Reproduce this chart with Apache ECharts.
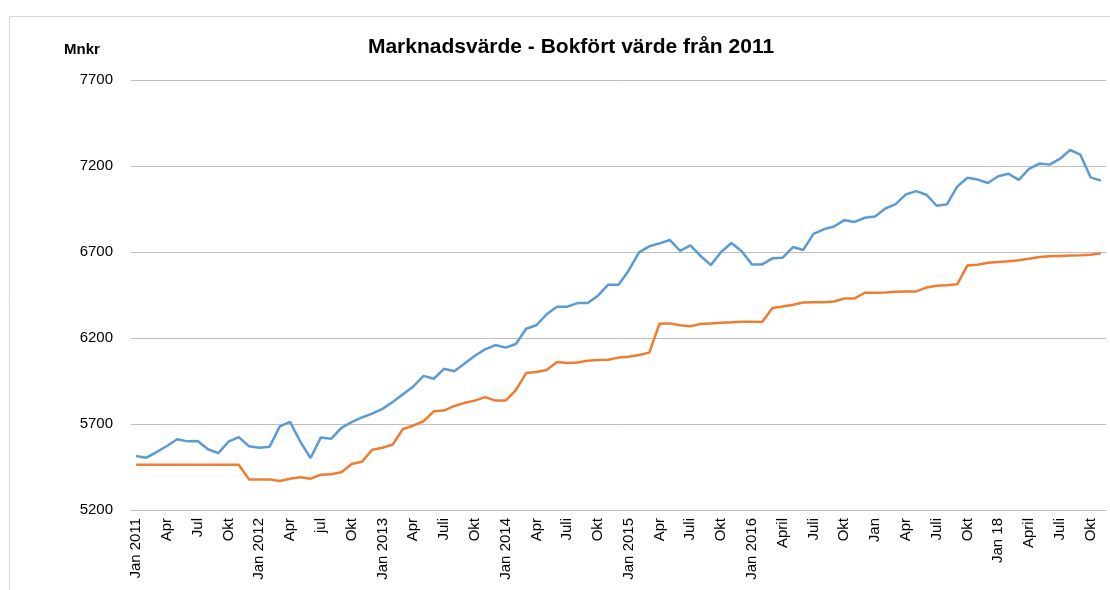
<!DOCTYPE html>
<html lang="sv">
<head>
    <meta charset="UTF-8"/>
    <script src="https://cdn.jsdelivr.net/npm/echarts@6/dist/echarts.min.js"></script>
    <title>Marknadsvärde</title>
    <style>
        html, body { margin: 0; padding: 0; background: #fff; }
        #chart { width: 1110px; height: 590px; }
    </style>
</head>
<body>
<div id="chart"></div>
<script type="text/javascript">
    // tick labels, one for every third month (Jan 2011 .. Okt 2018)
    var tickLabels = ['Jan 2011', 'Apr', 'Jul', 'Okt', 'Jan 2012', 'Apr', 'jul', 'Okt',
        'Jan 2013', 'Apr', 'Juli', 'Okt', 'Jan 2014', 'Apr', 'Juli', 'Okt',
        'Jan 2015', 'Apr', 'Juli', 'Okt', 'Jan 2016', 'April', 'Juli', 'Okt',
        'Jan', 'Apr', 'Juli', 'Okt', 'Jan 18', 'April', 'Juli', 'Okt'];

    // Marknadsvärde (blå)
    var marketValue = [5514, 5504, 5537, 5572, 5611, 5599, 5601, 5553, 5531, 5597, 5624, 5570,
        5562, 5568, 5686, 5712, 5597, 5502, 5622, 5614, 5678, 5711, 5738, 5760,
        5788, 5828, 5873, 5918, 5980, 5963, 6021, 6007, 6052, 6097, 6134, 6159,
        6144, 6165, 6254, 6274, 6338, 6382, 6382, 6403, 6403, 6446, 6510, 6510,
        6593, 6698, 6733, 6750, 6770, 6706, 6739, 6677, 6624, 6700, 6752, 6704,
        6628, 6628, 6663, 6667, 6729, 6712, 6805, 6832, 6848, 6885, 6875, 6899,
        6906, 6953, 6978, 7035, 7054, 7033, 6969, 6977, 7080, 7132, 7121, 7101,
        7140, 7155, 7119, 7183, 7214, 7208, 7241, 7293, 7266, 7134, 7115];

    // Bokfört värde (orange)
    var bookValue = [5463, 5463, 5463, 5463, 5463, 5463, 5463, 5463, 5463, 5463, 5463, 5378,
        5378, 5378, 5369, 5382, 5390, 5382, 5405, 5408, 5420, 5468, 5480, 5550,
        5562, 5581, 5671, 5690, 5716, 5774, 5778, 5805, 5823, 5836, 5856, 5836,
        5836, 5897, 5996, 6002, 6014, 6060, 6055, 6057, 6068, 6072, 6074, 6086,
        6091, 6101, 6115, 6283, 6285, 6274, 6268, 6281, 6285, 6288, 6291, 6295,
        6295, 6293, 6375, 6383, 6393, 6406, 6408, 6408, 6412, 6430, 6430, 6463,
        6463, 6465, 6469, 6471, 6471, 6493, 6504, 6506, 6512, 6622, 6626, 6638,
        6642, 6646, 6652, 6661, 6671, 6675, 6677, 6679, 6681, 6684, 6692];

    var categories = [];
    for (var i = 0; i < marketValue.length; i++) {
        categories.push(i % 3 === 0 ? tickLabels[i / 3] : '');
    }

    var myChart = echarts.init(document.getElementById('chart'));
    var font = 'Liberation Sans';
    var option = {
        backgroundColor: '#fff',
        animation: false,
        textStyle: { fontFamily: font },
        graphic: [{
            type: 'rect',
            shape: { x: 9.5, y: 16.5, width: 1120, height: 600 },
            style: { fill: 'none', stroke: '#d9d9d9', lineWidth: 1 },
            silent: true
        }],
        title: [{
            text: 'Marknadsvärde - Bokfört värde från 2011',
            left: 566,
            top: 32,
            textAlign: 'center',
            textStyle: { fontFamily: font, fontSize: 21, fontWeight: 'bold', color: '#000' }
        }, {
            text: 'Mnkr',
            left: 59,
            top: 37,
            textStyle: { fontFamily: font, fontSize: 15, fontWeight: 'bold', color: '#000' }
        }],
        grid: { left: 131, right: 4, top: 80, bottom: 80 },
        xAxis: {
            type: 'category',
            data: categories,
            boundaryGap: true,
            axisLine: { lineStyle: { color: '#bfbfbf', width: 1 } },
            axisTick: { show: false },
            axisLabel: {
                interval: 2,
                rotate: 90,
                margin: 8,
                fontSize: 15,
                color: '#000',
                fontFamily: font
            }
        },
        yAxis: {
            type: 'value',
            min: 5200,
            max: 7700,
            interval: 500,
            axisLine: { show: false },
            axisTick: { show: false },
            axisLabel: {
                fontSize: 15,
                color: '#000',
                margin: 18,
                fontFamily: font,
                formatter: function (v) { return String(v); }
            },
            splitLine: { lineStyle: { color: '#bfbfbf', width: 1 } }
        },
        series: [{
            name: 'Marknadsvärde',
            type: 'line',
            data: marketValue,
            symbol: 'none',
            lineStyle: { color: '#5b9bd5', width: 2.5 },
            itemStyle: { color: '#5b9bd5' }
        }, {
            name: 'Bokfört värde',
            type: 'line',
            data: bookValue,
            symbol: 'none',
            lineStyle: { color: '#ed7d31', width: 2.5 },
            itemStyle: { color: '#ed7d31' }
        }]
    };
    myChart.setOption(option);
</script>
</body>
</html>
